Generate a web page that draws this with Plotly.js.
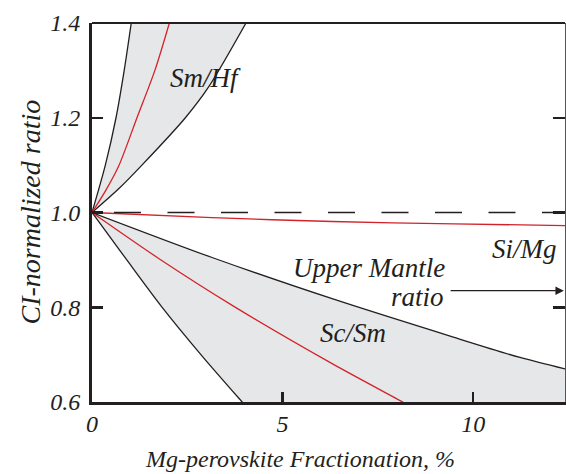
<!DOCTYPE html>
<html>
<head>
<meta charset="utf-8">
<script src="https://cdn.plot.ly/plotly-3.0.1.min.js"></script>
<style>html,body{margin:0;padding:0;background:#fff;}#chart{width:566px;height:474px;}</style>
</head>
<body>
<div id="chart"></div>
<script>
// ---- data ----
const xRange = [0, 12.41];
const yRange = [0.6, 1.4];
const xTicks = [0, 5, 10];
const yTicks = [0.6, 0.8, 1.0, 1.2, 1.4];

// Sm/Hf band
const smhfLowX = [0, 0.35, 0.63, 0.845, 1.03];
const smhfLowY = [1.0, 1.10, 1.20, 1.30, 1.40];
const smhfMidX = [0, 0.35, 0.70, 1.18, 1.65, 2.03];
const smhfMidY = [1.0, 1.045, 1.098, 1.20, 1.30, 1.40];
const smhfHighX = [0, 0.70, 1.31, 2.45, 3.06, 4.04];
const smhfHighY = [1.0, 1.05, 1.10, 1.20, 1.265, 1.40];

// Si/Mg
const simgX = [0, 3.15, 6.3, 9.5, 12.5];
const simgY = [1.0, 0.989, 0.981, 0.976, 0.9723];

// Sc/Sm band
const scsmUpX = [0, 3.15, 6.3, 9.48, 11.23, 12.5];
const scsmUpY = [1.0, 0.905, 0.818, 0.737, 0.694, 0.668];
const scsmMidX = [0, 1.75, 3.7, 6.3, 8.15, 8.3];
const scsmMidY = [1.0, 0.903, 0.803, 0.681, 0.60, 0.593];
const scsmLowX = [0, 0.875, 1.82, 2.89, 3.94, 4.05];
const scsmLowY = [1.0, 0.904, 0.802, 0.697, 0.60, 0.59];

const refLevel = 1.0;
const arrowLevel = 0.835;
const arrowFrom = 9.37;
const arrowTo = 12.38;

const INK = '#231f20';
const RED = '#d2232a';
const GRAY = '#e6e7e8';
const FONT = 'Liberation Serif';

const blackLine = {color: INK, width: 1.3, shape: 'spline', smoothing: 0.8};
const redLine = {color: RED, width: 1.3, shape: 'spline', smoothing: 0.8};

const traces = [
  {x: smhfHighX, y: smhfHighY, mode: 'lines', line: blackLine},
  {x: smhfLowX, y: smhfLowY, mode: 'lines', line: blackLine, fill: 'tonexty', fillcolor: GRAY},
  {x: smhfMidX, y: smhfMidY, mode: 'lines', line: redLine},
  {x: scsmUpX, y: scsmUpY, mode: 'lines', line: blackLine, fill: 'tozeroy', fillcolor: GRAY},
  {x: scsmLowX, y: scsmLowY, mode: 'lines', line: blackLine, fill: 'tozeroy', fillcolor: '#ffffff'},
  {x: scsmMidX, y: scsmMidY, mode: 'lines', line: redLine},
  {x: simgX, y: simgY, mode: 'lines', line: redLine},
  {x: [xRange[0]], y: [refLevel], yaxis: 'y2', mode: 'markers', marker: {opacity: 0}, showlegend: false}
];

const tickFont = {family: FONT, size: 24, color: INK, style: 'italic'};
const labelFont = {family: FONT, size: 27, color: INK, style: 'italic'};

const layout = {
  width: 566, height: 474,
  margin: {l: 92, r: 1, t: 23, b: 72, pad: 0},
  paper_bgcolor: '#ffffff', plot_bgcolor: '#ffffff',
  showlegend: false,
  font: {family: FONT, color: INK},
  xaxis: {
    range: xRange, tickvals: xTicks, ticktext: xTicks.map(String),
    showline: true, linewidth: 3, linecolor: INK,
    ticks: 'inside', ticklen: 10, tickwidth: 2.5, tickcolor: INK,
    showgrid: false, zeroline: false, tickfont: tickFont, ticklabelstandoff: -2
  },
  yaxis: {
    range: yRange, tickvals: yTicks, tickformat: '.1f',
    showline: true, linewidth: 3, linecolor: INK,
    ticks: 'inside', ticklen: 11, tickwidth: 2.5, tickcolor: INK,
    showgrid: false, zeroline: false, tickfont: tickFont, ticklabelstandoff: 4
  },
  yaxis2: {
    range: yRange, overlaying: 'y', side: 'right', tickvals: [0.8, 1.0, 1.2],
    showline: true, linewidth: 1, linecolor: '#555555',
    ticks: 'inside', ticklen: 12, tickwidth: 2.5, tickcolor: INK,
    showticklabels: false, showgrid: false, zeroline: false
  },
  shapes: [
    {type: 'line', xref: 'paper', yref: 'paper', x0: 0, x1: 1, y0: 1, y1: 1,
     line: {color: INK, width: 2}},
    {type: 'line', xref: 'x', yref: 'y', x0: 0.577, x1: xRange[1], y0: refLevel, y1: refLevel,
     line: {color: INK, width: 1.5, dash: '27px,26.5px'}}
  ],
  annotations: [
    {xref: 'x', yref: 'y', x: arrowTo, y: arrowLevel, ax: arrowFrom, ay: arrowLevel,
     axref: 'x', ayref: 'y', text: '', showarrow: true, arrowhead: 2, arrowsize: 1.3,
     arrowwidth: 1.3, arrowcolor: INK},
    {xref: 'x', yref: 'y', x: 2.98, y: 1.283, xanchor: 'center', yanchor: 'middle', text: 'Sm/Hf', showarrow: false, font: labelFont},
    {xref: 'x', yref: 'y', x: 6.84, y: 0.745, xanchor: 'center', yanchor: 'middle', text: 'Sc/Sm', showarrow: false, font: labelFont},
    {xref: 'x', yref: 'y', x: 11.36, y: 0.924, xanchor: 'center', yanchor: 'middle', text: 'Si/Mg', showarrow: false, font: labelFont},
    {xref: 'x', yref: 'y', x: 9.315, y: 0.883, xanchor: 'right', yanchor: 'middle', text: 'Upper Mantle', showarrow: false, font: labelFont},
    {xref: 'x', yref: 'y', x: 9.29, y: 0.822, xanchor: 'right', yanchor: 'middle', text: 'ratio', showarrow: false, font: labelFont},
    {xref: 'paper', yref: 'paper', x: 0.44, y: -0.150, xanchor: 'center', yanchor: 'middle',
     text: 'Mg-perovskite Fractionation, %',
     showarrow: false, font: {family: FONT, size: 24, color: INK, style: 'italic'}},
    {xref: 'paper', yref: 'paper', x: -0.131, y: 0.5, xanchor: 'center', yanchor: 'middle',
     textangle: -90, text: 'CI-normalized ratio',
     showarrow: false, font: {family: FONT, size: 28, color: INK, style: 'italic'}}
  ]
};

Plotly.newPlot('chart', traces, layout, {staticPlot: true, displayModeBar: false});
</script>
</body>
</html>
